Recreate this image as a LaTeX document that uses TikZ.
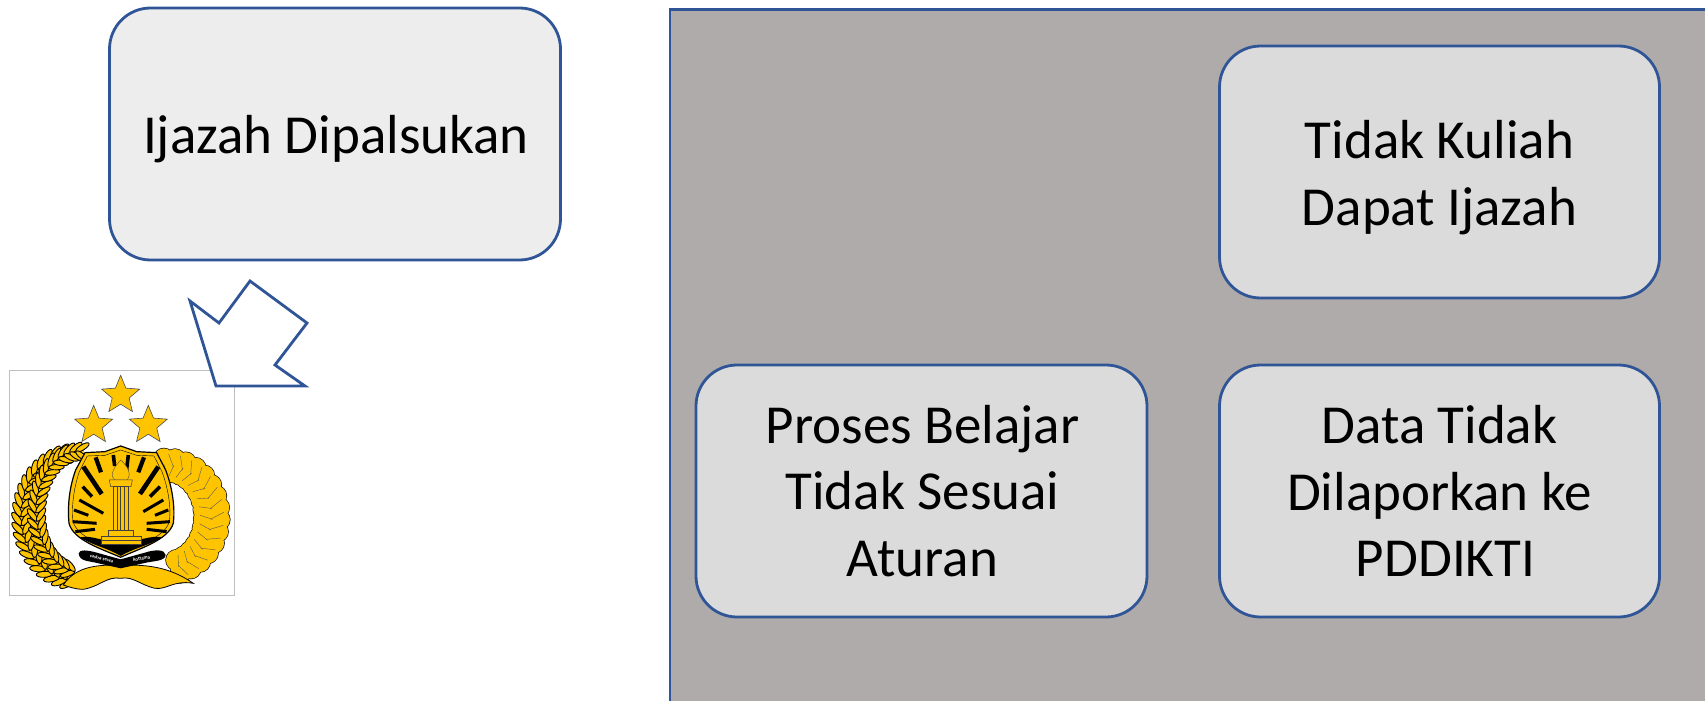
\documentclass[tikz,border=0pt]{standalone}
\usepackage{fontspec}
\setmainfont{Carlito}
\usetikzlibrary{shapes.geometric}
\definecolor{linkblue}{HTML}{2F5597}
\definecolor{panelgray}{HTML}{AFABAB}
\definecolor{cardgray}{HTML}{DBDBDB}
\definecolor{paleGray}{HTML}{EDEDED}
\definecolor{emblemgold}{HTML}{FFC400}
\newcommand{\lowered}[1]{\raisebox{-5.5pt}[\height][\depth]{#1}}
\tikzstyle{card} = [rectangle, draw=linkblue, line width=2.8pt, fill=cardgray, text=black, text centered, align=center, rounded corners=41pt, minimum width=440pt, minimum height=252pt, inner sep=0pt, font=\fontsize{55}{66.5}\selectfont]
\tikzstyle{panel} = [rectangle, draw=linkblue, line width=2.8pt, fill=panelgray, anchor=north west, minimum width=1060pt, minimum height=720pt]
\tikzstyle{emblemstar} = [star, star points=5, star point ratio=2.25, draw=black!70, line width=0.6pt, fill=emblemgold, minimum size=40pt, inner sep=0pt]
\tikzstyle{leaf} = [draw=black, line width=0.9pt, fill=emblemgold]
\tikzstyle{mottotext} = [text=white, font=\bfseries\fontsize{5}{5}\selectfont, inner sep=0pt]

\begin{document}
\begin{tikzpicture}[x=1pt,y=-1pt]
        \useasboundingbox (0,0) rectangle (1705,701);
        \node (back) [panel] at (668.5,8) {};
        \node (forged) [card,fill=paleGray,minimum width=451pt] at (335,134) {\lowered{\hspace*{2pt}Ijazah Dipalsukan}};
        \node (noclass) [card] at (1439.5,172) {\lowered{Tidak Kuliah}\\\lowered{Dapat Ijazah}};
        \node (rules) [card,minimum width=451pt] at (921.5,491) {\hspace*{2pt}Proses Belajar\\\hspace*{2pt}Tidak Sesuai\\\hspace*{2pt}Aturan};
        \node (nodata) [card] at (1439.5,491) {Data Tidak\\Dilaporkan ke\\\hspace*{12pt}PDDIKTI};
        % emblem, coordinates are 3x the pixels
        \begin{scope}[shift={(0,270)},x=0.3333pt,y=-0.3333pt]
            \draw[black!25,line width=0.8pt,fill=white] (28,300) rectangle (703,975);
            \node (star1) [emblemstar] at (362,376) {};
            \node (star2) [emblemstar] at (281,466) {};
            \node (star3) [emblemstar] at (445,466) {};
            % wheat on the left
            \draw[emblemgold,line width=14pt] plot[domain=98:262,samples=30] ({225+160*cos(\x)},{740-190*sin(\x)});
            \draw[emblemgold,line width=14pt] plot[domain=85:255,samples=30] ({240+130*cos(\x)},{725-180*sin(\x)});
            \foreach \a in {262,254,...,98} {
                \fill[leaf] ({225+174*cos(\a)},{740-204*sin(\a)}) ellipse [x radius=24,y radius=9,rotate=\a-55];
                \fill[leaf] ({225+146*cos(\a)},{740-176*sin(\a)}) ellipse [x radius=24,y radius=9,rotate=\a-125];
            }
            \foreach \a in {255,247,...,85} {
                \fill[leaf] ({240+143*cos(\a)},{725-193*sin(\a)}) ellipse [x radius=23,y radius=8,rotate=\a-55];
                \fill[leaf] ({240+117*cos(\a)},{725-167*sin(\a)}) ellipse [x radius=23,y radius=8,rotate=\a-125];
            }
            % laurel on the right
            \foreach \a in {-75,-63,...,100} {
                \fill[black] ({500+160*cos(\a)},{740-175*sin(\a)}) circle (32);
                \fill[black] ({500+112*cos(\a)},{740-135*sin(\a)}) circle (33);
            }
            \foreach \a in {-75,-63,...,100} {
                \fill[emblemgold] ({500+160*cos(\a)},{740-175*sin(\a)}) circle (30);
                \fill[emblemgold] ({500+112*cos(\a)},{740-135*sin(\a)}) circle (31);
            }
            \foreach \a in {-75,-63,...,100} {
                \draw[black!65,line width=0.4pt] ({500+132*cos(\a)},{740-150*sin(\a)}) -- ({500+172*cos(\a+7)},{740-188*sin(\a+7)});
                \draw[black!65,line width=0.4pt] ({500+100*cos(\a+5)},{740-122*sin(\a+5)}) -- ({500+138*cos(\a)},{740-156*sin(\a)});
            }
            % lower ribbon
            \fill[emblemgold,draw=black,line width=0.8pt] (190,945) .. controls (230,885) and (300,885) .. (362,885) .. controls (430,885) and (500,885) .. (580,940) .. controls (520,930) and (500,960) .. (465,955) .. controls (420,945) and (400,918) .. (362,925) .. controls (320,918) and (300,950) .. (250,958) .. controls (225,958) and (205,950) .. (190,945) -- cycle;
            % shield
            \fill[emblemgold,draw=black,line width=1.2pt] (362,528) -- (410,545) -- (470,548) -- (497,600) .. controls (520,660) and (525,720) .. (520,760) .. controls (505,810) and (420,835) .. (362,862) .. controls (300,835) and (220,810) .. (207,760) .. controls (203,720) and (205,660) .. (227,600) -- (255,548) -- (315,545) -- cycle;
            \draw[black,line width=0.4pt] (362,540) -- (410,556) -- (462,558) -- (486,605) .. controls (508,665) and (513,720) .. (508,755) .. controls (495,800) and (420,825) .. (362,850) .. controls (305,825) and (232,800) .. (219,755) .. controls (215,720) and (218,665) .. (238,605) -- (262,558) -- (315,556) -- cycle;
            % rays
            \foreach \xa/\ya/\xb/\yb/\w in {287/562/303/607/4.2,340/555/344/588/3.6,385/555/379/607/3.6,432/562/415/607/4.2,250/590/305/672/4.6,475/590/420/672/4.6,248/650/276/680/3.4,480/650/450/680/3.4,238/690/310/730/3,490/690/430/725/3,222/720/265/736/3,505/720/465/736/3,218/755/290/760/3,510/755/440/760/3,226/785/285/778/3,500/785/440/778/3} {
                \draw[black,line width=\w pt] (\xa,\ya) -- (\xb,\yb);
            }
            \fill[black] (240,802) .. controls (280,795) and (300,815) .. (362,815) .. controls (425,815) and (445,795) .. (488,802) .. controls (450,825) and (400,835) .. (362,858) .. controls (325,835) and (275,825) .. (240,802) -- cycle;
            % torch
            \fill[emblemgold,draw=black!70,line width=0.4pt] (362,570) .. controls (335,600) and (330,620) .. (345,630) -- (382,630) .. controls (395,615) and (385,590) .. (362,570) -- cycle;
            \fill[emblemgold,draw=black!75,line width=0.5pt] (328,630) -- (397,630) -- (393,650) -- (332,650) -- cycle;
            \fill[emblemgold,draw=black!75,line width=0.5pt] (340,650) rectangle (385,782);
            \foreach \x in {351,362,373} \draw[black!75,line width=0.5pt] (\x,652) -- (\x,780);
            \fill[emblemgold,draw=black!75,line width=0.5pt] (325,782) rectangle (400,800);
            \fill[emblemgold,draw=black!75,line width=0.5pt] (303,800) rectangle (425,824);
            \draw[black!75,line width=0.4pt] (303,812) -- (425,812);
            % scroll
            \fill[black] (236,850) .. controls (238,838) and (262,840) .. (290,848) -- (362,868) -- (435,848) .. controls (465,838) and (495,838) .. (497,855) .. controls (495,875) and (460,872) .. (430,880) -- (362,895) -- (295,880) .. controls (265,872) and (238,875) .. (236,850) -- cycle;
            \node (motto1) [mottotext,rotate=-14] at (305,866) {rastra sewa};
            \node (motto2) [mottotext,rotate=10] at (425,866) {kottama};
        \end{scope}
        % block arrow on top of the emblem
        \draw[linkblue,line width=2.8pt,fill=white,line join=miter] (190,301) -- (219,323) -- (250,281) -- (307,323) -- (275,365) -- (305,386) -- (216,386) -- cycle;
    \end{tikzpicture}
\end{document}
